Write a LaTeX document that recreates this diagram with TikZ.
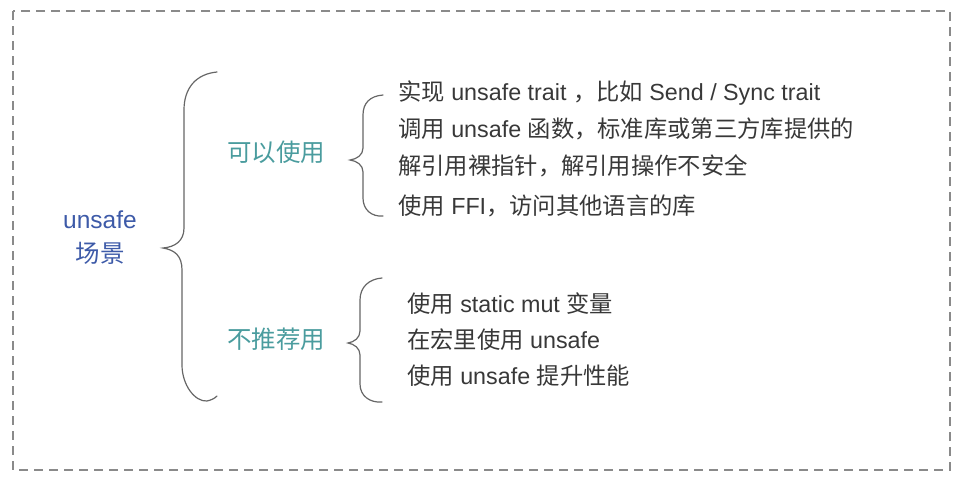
\documentclass[tikz,border=0pt]{standalone}
\usepackage{fontspec}
\setmainfont{Liberation Sans}
\newfontfamily\cjkfont{Noto Sans CJK SC}
\newcommand\zh[1]{{\cjkfont #1}}
\definecolor{framegray}{HTML}{8A8A8A}
\definecolor{bracegray}{HTML}{666666}
\definecolor{txtgray}{HTML}{383838}
\definecolor{teal}{HTML}{4A9C9E}
\definecolor{rootblue}{HTML}{3D5AA8}
\begin{document}
\begin{tikzpicture}[x=1pt,y=-1pt,
  frame/.style={draw=framegray,line width=1.4pt,dash pattern=on 9pt off 6pt},
  bracepath/.style={draw=bracegray,line width=1.2pt,line cap=round},
  root/.style={text=rootblue,font=\fontsize{24.5}{30}\selectfont,inner sep=0pt},
  cat/.style={text=teal,font=\fontsize{24.5}{30}\selectfont,inner sep=0pt},
  item/.style={text=txtgray,font=\fontsize{23.3}{28}\selectfont,anchor=base west,inner sep=0pt}]
\useasboundingbox (0,0) rectangle (962,480);
\draw[frame] (13,11) rectangle (950,470);
% root
\node[root,anchor=base] (r1) at (100,228) {unsafe};
\node[root,anchor=base] (r2) at (100,262) {\zh{场景}};
% big brace
\draw[bracepath] (217,72) .. controls (196,74) and (184,88) .. (184,110) -- (184,228)
  .. controls (184,241) and (175,247) .. (163,248)
  .. controls (175,250) and (182,256) .. (182,270) -- (182,365)
  .. controls (182,385) and (195,402) .. (207,401)
  .. controls (211,400) and (214,399) .. (217,396);
% categories
\node[cat,anchor=base] (c1) at (276,161) {\zh{可以使用}};
\node[cat,anchor=base] (c2) at (276,348) {\zh{不推荐用}};
% brace 1
\draw[bracepath] (383,95) .. controls (370,96) and (363,103) .. (363,115) -- (363,148)
  .. controls (363,155) and (357,159) .. (350,160)
  .. controls (357,161) and (363,165) .. (363,172) -- (363,198)
  .. controls (363,210) and (372,217) .. (383,216);
% brace 2
\draw[bracepath] (382,278) .. controls (369,279) and (360,287) .. (360,300) -- (360,331)
  .. controls (360,338) and (354,342) .. (348,343)
  .. controls (354,344) and (360,348) .. (360,355) -- (360,384)
  .. controls (360,396) and (370,403) .. (382,402);
% items 1
\node[item] (a1) at (398,100) {\zh{实现} unsafe trait \zh{，比如} Send / Sync trait};
\node[item] (a2) at (398,137) {\zh{调用} unsafe \zh{函数，标准库或第三方库提供的}};
\node[item] (a3) at (398,174) {\zh{解引用裸指针，解引用操作不安全}};
\node[item] (a4) at (398,214) {\zh{使用} FFI\zh{，访问其他语言的库}};
% items 2
\node[item] (b1) at (407,312) {\zh{使用} static mut \zh{变量}};
\node[item] (b2) at (407,348) {\zh{在宏里使用} unsafe};
\node[item] (b3) at (407,384) {\zh{使用} unsafe \zh{提升性能}};
\end{tikzpicture}
\end{document}
